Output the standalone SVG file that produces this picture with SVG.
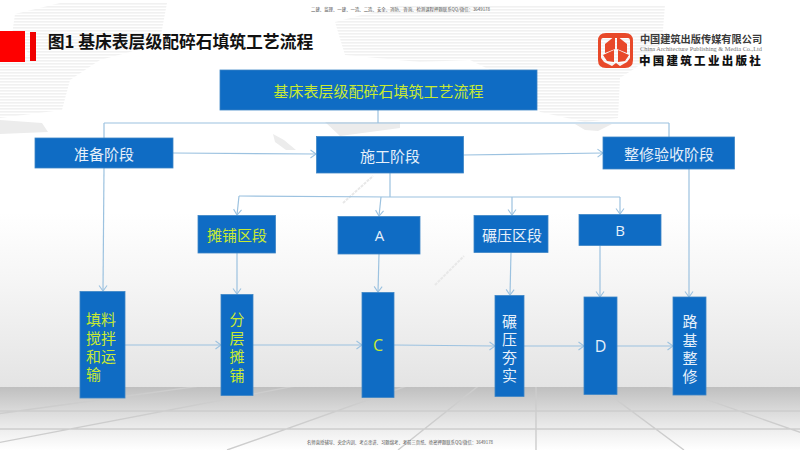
<svg xmlns="http://www.w3.org/2000/svg" width="800" height="450" viewBox="0 0 800 450">
<style>
text{font-family:"Noto Sans CJK SC","Noto Sans",sans-serif;text-anchor:middle;dominant-baseline:central}
.b{fill:#0f6cc4;stroke:#3d86c6;stroke-width:.8}
.w{fill:#e6f0fa;font-size:15px}
.y{fill:#c8ea32;font-size:15px}
.l{fill:none;stroke:#9cc2e0;stroke-width:1.2}
.a{marker-end:url(#arr)}
.f{fill:none;stroke:#cdcdcd;stroke-width:1.4}
.tiny{fill:#555;font-size:4.6px;text-anchor:start}
.wm{stroke:#e8e8e8;stroke-width:2;stroke-dasharray:3 1}
</style>
<defs>
<linearGradient id="wall" x1="0" y1="0" x2="0" y2="1"><stop offset="0" stop-color="#fff"/><stop offset=".55" stop-color="#fff"/><stop offset=".72" stop-color="#f6f6f6"/><stop offset="1" stop-color="#e4e4e4"/></linearGradient>
<linearGradient id="floor" x1="0" y1="0" x2="0" y2="1"><stop offset="0" stop-color="#bfbfbf"/><stop offset=".35" stop-color="#d8d8d8"/><stop offset=".7" stop-color="#efefef"/><stop offset="1" stop-color="#fff"/></linearGradient>
<pattern id="st" width="4" height="3" patternUnits="userSpaceOnUse"><rect width="4" height="1.6" fill="#f1f1f1"/></pattern>
<marker id="arr" markerUnits="userSpaceOnUse" markerWidth="10" markerHeight="10" refX="6" refY="4" orient="auto" overflow="visible"><path d="M0.5,0 L6,4 L0.5,8" fill="none" stroke="#9cc2e0" stroke-width="1.1"/></marker>
<clipPath id="fc"><rect x="0" y="387" width="800" height="63"/></clipPath>
</defs>
<g id="background">
<rect width="800" height="387" fill="url(#wall)"/>
<path d="M15,14 L60,3 L167,3 L160,40 L130,52 L100,60 L70,80 L62,110 L0,118 L0,60 L30,55 L12,35Z" fill="url(#st)"/>
<path d="M335,22 L400,5 L665,5 L662,42 L640,65 L620,78 L618,118 L585,122 L540,112 L520,85 L470,60 L420,62 L345,55Z" fill="url(#st)"/>
<path d="M0,120 L42,123 L48,132 L0,134Z M325,122 L400,122 L400,128 L340,136Z M575,124 L612,124 L598,131 L585,130Z M273,134 L284,140 L296,150 L286,150 L275,142Z" fill="#ececec"/>
<path class="wm" d="M343,203 L373,176 M435,285 L464,256"/>
<rect y="387" width="800" height="63" fill="url(#floor)"/>
<g clip-path="url(#fc)">
<path class="f" d="M0,411H800M0,429H800M536,387V450M536,340L-267,450M536,340L-40,450M536,340L227,450M536,340L398,450M536,340L684,450M536,340L851,450M536,340L1200,450"/>
</g>
<rect x="0" y="31" width="25" height="31" fill="#fe0000"/>
<rect x="30" y="32" width="6" height="29" fill="#f00000"/>
<text x="180.500" y="41" style="font-size:16.800px;font-weight:700;fill:#111">图1 基床表层级配碎石填筑工艺流程</text>
<text class="tiny" x="311" y="9" textLength="179" lengthAdjust="spacingAndGlyphs">二建、监理、一建、一造、二造、安全、消防、咨询、检测课程押题联系QQ/微信：3649178</text>
<text class="tiny" x="307" y="442" textLength="186" lengthAdjust="spacingAndGlyphs">名师直授辅导、央企内训、考点串讲、习题绵考、考前三页纸、绝密押题联系QQ/微信：3649178</text>
</g>
<g id="logo">
<path d="M606,33 H625 Q633,33 633,41 V60 Q633,68 625,68 H606 Q598,68 598,60 V41 Q598,33 606,33Z M603,38 Q601,38 601,41 V58 L604,62 L612,66 L616,63 L620,66 L627,62 L630,58 V41 Q630,38 628,38Z" fill="#e8492a" fill-rule="evenodd"/>
<path d="M605,44 L615,36 L615,49 L605,53Z M617,36 L627,44 L627,53 L617,49Z M603,55 L614,50 L614,62 L607,61Z M618,50 L629,55 L625,61 L618,62Z" fill="#e8492a"/>
<text x="701" y="38.500" style="font-size:10.200px;font-weight:700;fill:#3a3a3a">中国建筑出版传媒有限公司</text>
<text x="701" y="48" textLength="122" lengthAdjust="spacingAndGlyphs" style="font-family:'Liberation Serif',serif;font-size:6.200px;fill:#777">China Architecture Publishing &amp; Media Co.,Ltd</text>
<text x="701" y="60" style="font-size:11.500px;font-weight:900;fill:#111;letter-spacing:2.300px">中国建筑工业出版社</text>
</g>
<g id="connectors">
<path class="l" d="M104,123H669M378,110V123M104,123V138M669,123V137"/>
<path class="l a" d="M173,153L316,154"/>
<path class="l a" d="M463,155L603,153"/>
<path class="l a" d="M104,168L103,291"/>
<path class="l" d="M390,173V197M239,196L390,197H620"/>
<path class="l a" d="M239,196L237,215"/>
<path class="l a" d="M381,197L379,216"/>
<path class="l a" d="M512,197V215"/>
<path class="l a" d="M620,197V214"/>
<path class="l a" d="M237,253V294"/>
<path class="l a" d="M379,254L378,292"/>
<path class="l a" d="M511,252L510,295"/>
<path class="l a" d="M600,245V297"/>
<path class="l a" d="M689,169V297"/>
<path class="l a" d="M125,345H221"/>
<path class="l a" d="M253,345H362"/>
<path class="l a" d="M394,345L495,346"/>
<path class="l a" d="M524,346H584"/>
<path class="l a" d="M617,346H673"/>
</g>
<g id="n-main"><rect class="b" x="220" y="70" width="317" height="40"/><text class="y" x="378.500" y="90">基床表层级配碎石填筑工艺流程</text></g>
<g id="n-prep"><rect class="b" x="35" y="138" width="138" height="30"/><text class="w" x="104" y="153">准备阶段</text></g>
<g id="n-build"><rect class="b" x="316.500" y="136.500" width="147" height="36.500"/><text class="w" x="390" y="155">施工阶段</text></g>
<g id="n-finish"><rect class="b" x="603" y="137" width="131.500" height="32"/><text class="w" x="669" y="153">整修验收阶段</text></g>
<g id="n-spread"><rect class="b" x="198" y="215.500" width="77.500" height="37.500"/><text class="y" x="237" y="234.500">摊铺区段</text></g>
<g id="n-a"><rect class="b" x="338" y="216.500" width="82" height="37.500"/><text class="w" x="379.500" y="235" style="font-family:'Open Sans',sans-serif;font-size:15px">A</text></g>
<g id="n-roll"><rect class="b" x="474" y="215.500" width="74" height="37"/><text class="w" x="512" y="234.500">碾压区段</text></g>
<g id="n-b"><rect class="b" x="579" y="214.500" width="82" height="31"/><text class="w" x="620" y="230" style="font-family:'Open Sans',sans-serif;font-size:15px">B</text></g>
<g id="n-mix"><rect class="b" x="80" y="291.500" width="45" height="106.500"/><text class="y"><tspan x="101" y="318">填料</tspan><tspan x="101" y="336.500">搅拌</tspan><tspan x="101" y="354.500">和运</tspan><tspan x="93.500" y="373">输</tspan></text></g>
<g id="n-layer"><rect class="b" x="221" y="294.500" width="32" height="101"/><text class="y"><tspan x="237" y="318">分</tspan><tspan x="237" y="337">层</tspan><tspan x="237" y="355">摊</tspan><tspan x="237" y="374">铺</tspan></text></g>
<g id="n-c"><rect class="b" x="362" y="292.500" width="32" height="105"/><text class="y" x="378" y="345" style="font-family:'Open Sans',sans-serif;font-size:16px">C</text></g>
<g id="n-compact"><rect class="b" x="495" y="295.500" width="29" height="101"/><text class="w"><tspan x="509.500" y="320">碾</tspan><tspan x="509.500" y="338">压</tspan><tspan x="509.500" y="356">夯</tspan><tspan x="509.500" y="374">实</tspan></text></g>
<g id="n-d"><rect class="b" x="584" y="297" width="33" height="97.500"/><text class="w" x="600.500" y="346" style="font-family:'Open Sans',sans-serif;font-size:16px">D</text></g>
<g id="n-repair"><rect class="b" x="673" y="297" width="33" height="98"/><text class="w"><tspan x="690" y="320">路</tspan><tspan x="690" y="339">基</tspan><tspan x="690" y="357">整</tspan><tspan x="690" y="375">修</tspan></text></g>
</svg>
